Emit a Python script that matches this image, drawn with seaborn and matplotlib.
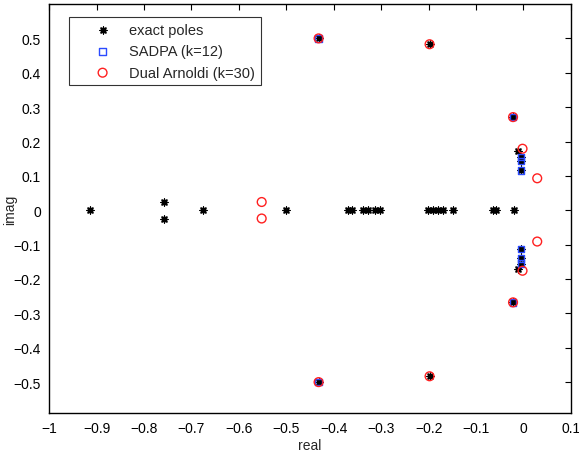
import matplotlib
matplotlib.use("Agg")
import matplotlib.pyplot as plt
import seaborn as sns
import pandas as pd

# exact poles (real, imag)
exact_re = [-0.914, -0.757, -0.757, -0.675, -0.5,
            -0.369, -0.362, -0.338, -0.327, -0.313, -0.303,
            -0.201, -0.191, -0.180, -0.170, -0.149,
            -0.065, -0.057, -0.021,
            -0.432, -0.432, -0.198, -0.198, -0.022, -0.022,
            -0.012, -0.012, -0.005, -0.005, -0.005, -0.005, -0.005, -0.005]
exact_im = [0.0, 0.024, -0.024, 0.0, 0.0,
            0.0, 0.0, 0.0, 0.0, 0.0, 0.0,
            0.0, 0.0, 0.0, 0.0, 0.0,
            0.0, 0.0, 0.0,
            0.5, -0.5, 0.483, -0.483, 0.271, -0.268,
            0.172, -0.172, 0.155, -0.155, 0.143, -0.140, 0.116, -0.113]

# SADPA (k=12)
sadpa_re = [-0.432, -0.432, -0.022, -0.022, -0.005, -0.005, -0.005, -0.005, -0.005, -0.005]
sadpa_im = [0.5, -0.5, 0.271, -0.268, 0.155, -0.155, 0.143, -0.140, 0.116, -0.113]

# Dual Arnoldi (k=30)
arn_re = [-0.552, -0.552, -0.432, -0.432, -0.198, -0.198, -0.022, -0.022, -0.002, -0.002, 0.029, 0.029]
arn_im = [0.024, -0.024, 0.5, -0.5, 0.483, -0.483, 0.271, -0.268, 0.179, -0.176, 0.093, -0.091]

xticks = [round(-1 + 0.1 * i, 1) for i in range(12)]
yticks = [round(-0.5 + 0.1 * i, 1) for i in range(11)]

sns.set_style("white")
plt.rcParams['font.family'] = ['Liberation Sans', 'DejaVu Sans']
plt.rcParams['axes.unicode_minus'] = True

fig = plt.figure(figsize=(5.79, 4.56), dpi=100)
ax = fig.add_axes([0.085, 0.092, 0.901, 0.897])

df_e = pd.DataFrame({"real": exact_re, "imag": exact_im})
df_s = pd.DataFrame({"real": sadpa_re, "imag": sadpa_im})
df_a = pd.DataFrame({"real": arn_re, "imag": arn_im})

sns.scatterplot(data=df_e, x="real", y="imag", ax=ax, marker=(8, 2, 0), s=24,
                color="black", linewidth=1.0, label="exact poles", zorder=3)
sns.scatterplot(data=df_s, x="real", y="imag", ax=ax, marker="s", s=22,
                facecolors="none", edgecolor="#2b4bff", linewidth=1.0,
                label="SADPA (k=12)", zorder=4)
sns.scatterplot(data=df_a, x="real", y="imag", ax=ax, marker="o", s=40,
                facecolors="none", edgecolor="#ff2020", linewidth=1.0,
                label="Dual Arnoldi (k=30)", zorder=5)

ax.set_xlim(-1, 0.1)
ax.set_ylim(-0.59, 0.6)
ax.set_xticks(xticks)
ax.set_xticklabels([("%g" % t).replace("-", "\u2212") for t in xticks])
ax.set_yticks(yticks)
ax.set_yticklabels([("%g" % t).replace("-", "\u2212") for t in yticks])
ax.tick_params(direction="in", length=4, width=0.8, top=True, right=True,
               labelsize=10, pad=6, colors="black")
for sp in ax.spines.values():
    sp.set_linewidth(1.0)
    sp.set_color("black")
ax.set_xlabel("real", fontsize=10, labelpad=2)
ax.set_ylabel("imag", fontsize=10)
ax.yaxis.set_label_coords(-0.062, 0.5)

leg = ax.legend(loc="upper left", bbox_to_anchor=(0.038, 0.968), fontsize=10.5,
                frameon=True, fancybox=False, edgecolor="black",
                handletextpad=-0.1, borderpad=0.4, labelspacing=0.5,
                handlelength=3.8, borderaxespad=0)
leg.get_frame().set_linewidth(0.8)

fig.savefig("out.png", dpi=100)
